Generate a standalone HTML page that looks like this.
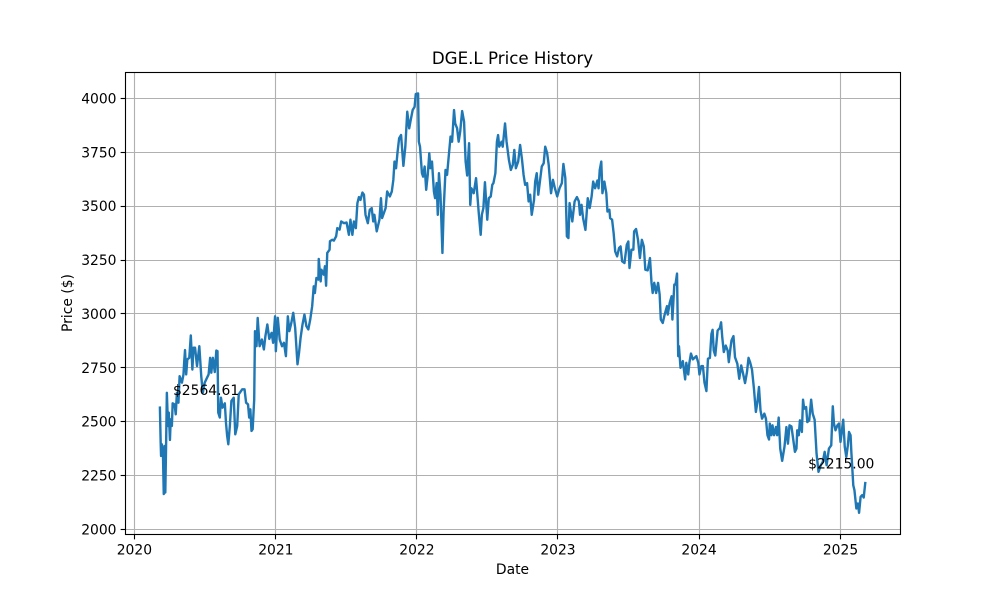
<!DOCTYPE html>
<html lang="en">
<head>
<meta charset="utf-8">
<title>DGE.L Price History</title>
<style>
html,body{margin:0;padding:0;background:#fff;width:1000px;height:600px;overflow:hidden}
svg{display:block}
text{font-family:"DejaVu Sans","Liberation Sans",sans-serif;fill:#000}
</style>
</head>
<body>
<svg id="chart" width="1000" height="600" viewBox="0 0 1000 600" xmlns="http://www.w3.org/2000/svg">
<rect x="0" y="0" width="1000" height="600" fill="#fff"/>
<text x="512.5" y="64" font-size="16.67" text-anchor="middle">DGE.L Price History</text>
<text x="512.5" y="574" font-size="13.89" text-anchor="middle">Date</text>
<text x="0" y="0" font-size="13.89" text-anchor="middle" transform="translate(72,303) rotate(-90)">Price ($)</text>
</svg>
<script>
// Days since 2020-01-01
const days = [
66,68,69,71,74,76,78,80,82,84,87,89,92,94,97,99,104,107,110,114,117,123,127,129,131,134,137,142,146,150,153,157,162,168,173,177,182,188,192,196,199,203,208,212,215,217,221,224,228,234,237,240,243,247,251,257,261,266,270,279,285,289,294,297,300,303,306,310,312,316,319,324,330,335,339,344,349,355,359,364,
366,371,376,382,387,392,397,401,406,411,416,422,426,430,435,440,445,450,455,460,464,467,471,476,477,482,484,490,493,496,499,505,506,512,516,522,525,531,535,542,549,555,559,564,568,573,577,581,585,590,594,598,604,609,614,618,621,627,630,634,638,641,650,654,661,666,670,673,677,681,685,690,696,701,706,711,715,720,725,728,734,
736,739,744,747,751,755,759,763,766,770,775,778,782,785,788,792,797,800,805,809,814,818,822,827,830,835,839,843,848,853,857,861,866,869,872,878,884,888,891,896,899,903,907,913,917,922,926,929,934,938,941,944,950,953,959,963,969,974,979,983,987,993,998,1003,1007,1011,1016,1020,1024,1028,1034,1037,1041,1045,1054,1059,1063,1068,1072,1078,1083,1088,1094,1100,1106,1110,
1115,1119,1123,1126,1133,1139,1145,1150,1153,1157,1161,1167,1173,1178,1183,1187,1192,1198,1201,1204,1208,1211,1216,1221,1224,1229,1231,1236,1240,1244,1249,1254,1258,1262,1268,1274,1278,1281,1286,1291,1293,1298,1303,1308,1313,1318,1322,1328,1334,1338,1341,1345,1350,1355,1359,1362,1367,1372,1378,1380,1385,1390,1392,1397,1400,1404,1407,1409,1413,1419,1425,1428,1433,1436,1440,1445,1454,1459,1462,1467,1471,1475,1480,
1484,1489,1493,1496,1499,1503,1509,1515,1518,1521,1525,1530,1535,1538,1542,1545,1550,1554,1560,1565,1570,1575,1580,1585,1589,1593,1598,1603,1608,1612,1616,1620,1624,1630,1634,1638,1642,1644,1648,1651,1655,1660,1663,1667,1671,1676,1682,1687,1691,1695,1700,1704,1709,1713,1715,1719,1722,1727,1730,1733,1738,1741,1746,1751,1755,1760,1765,1770,1776,1781,1786,1791,1797,1803,1807,1810,1814,1819,1823,1827,1834,1838,1842,1846,1849,1853,1855,1860,1863,1868,1872,1875,1879,1883,1887,1891
];
// Closing price at each of those days
const prices = [
2565,2403,2341,2395,2341,2164,2387,2171,2387,2634,2480,2542,2415,2511,2480,2585,2580,2534,2634,2588,2711,2681,2719,2781,2832,2719,2789,2796,2900,2742,2843,2843,2758,2850,2711,2634,2681,2704,2719,2796,2727,2796,2730,2830,2827,2542,2519,2611,2565,2585,2495,2434,2395,2480,2596,2611,2441,2480,2627,2650,2650,2588,2580,2519,2557,2457,2465,2603,2920,2850,2981,2850,2881,2835,2897,2951,2884,2912,2866,2989,
2827,2982,2881,2850,2866,2804,2989,2920,2958,3005,2935,2766,2820,2889,2951,2997,2943,2928,2974,3036,3128,3097,3167,3159,3255,3151,3205,3182,3221,3131,3283,3298,3337,3344,3340,3360,3398,3391,3429,3421,3424,3367,3437,3367,3429,3398,3514,3542,3529,3563,3553,3460,3421,3483,3491,3429,3460,3383,3406,3437,3537,3445,3491,3568,3545,3568,3622,3707,3676,3753,3815,3830,3687,3776,3938,3861,3900,3946,3961,4020,4023,
3799,3776,3653,3637,3684,3576,3645,3745,3676,3707,3568,3537,3607,3460,3653,3553,3283,3475,3668,3645,3745,3823,3799,3946,3884,3861,3799,3846,3941,3892,3707,3642,3792,3506,3583,3560,3630,3537,3468,3367,3460,3491,3611,3437,3537,3545,3599,3607,3653,3799,3830,3776,3799,3776,3884,3799,3715,3668,3691,3761,3676,3707,3784,3715,3645,3599,3607,3522,3553,3460,3529,3614,3653,3553,3684,3699,3776,3745,3691,3560,3622,3583,3545,3583,3607,3696,
3630,3360,3352,3514,3429,3522,3542,3522,3460,3506,3444,3390,3537,3491,3545,3614,3583,3619,3583,3668,3707,3560,3614,3560,3475,3483,3444,3437,3375,3290,3267,3306,3313,3244,3236,3321,3336,3213,3298,3298,3383,3394,3344,3259,3344,3313,3205,3202,3259,3144,3097,3144,3097,3144,3090,2974,2958,2997,3036,2997,3051,3082,2974,3136,3136,3187,2804,2850,2750,2781,2696,2773,2719,2773,2816,2789,2804,2773,2719,2758,2758,2681,2642,
2792,2796,2907,2926,2830,2807,2923,2935,2961,2892,2823,2853,2830,2776,2838,2877,2897,2799,2769,2699,2761,2722,2679,2730,2796,2776,2741,2653,2545,2591,2661,2552,2514,2537,2514,2437,2417,2491,2437,2483,2437,2475,2437,2519,2375,2318,2383,2475,2398,2483,2478,2426,2360,2375,2460,2437,2506,2452,2602,2560,2568,2498,2506,2602,2537,2509,2352,2267,2298,2313,2360,2298,2375,2390,2571,2491,2460,2483,2491,2406,2509,2383,2336,2390,2452,2437,2360,2205,2182,2097,2120,2077,2151,2159,2148,2215
];
const xTickDays = [0,366,731,1096,1461,1827];
const xTickLabels = ['2020','2021','2022','2023','2024','2025'];
const yTickValues = [2000,2250,2500,2750,3000,3250,3500,3750,4000];
const annotationLabels = ['$2564.61','$2215.00'];

const svgNS = 'http://www.w3.org/2000/svg';
const chart = document.getElementById('chart');
const plot = {left:125.5,right:900.5,top:72.5,bottom:534.5};
const xMin = -23, xMax = 1982.2, yMin = 1976.3, yMax = 4120.2;
function xScale(d){return plot.left+(d-xMin)*(plot.right-plot.left)/(xMax-xMin);}
function yScale(p){return plot.bottom-(p-yMin)*(plot.bottom-plot.top)/(yMax-yMin);}
function snap(v){return Math.floor(v)+0.5;}
function make(tag,attrs){
  const el=document.createElementNS(svgNS,tag);
  for(const k in attrs){el.setAttribute(k,attrs[k]);}
  return el;
}
// grid lines
xTickDays.forEach(function(d){
  const g=make('line',{x1:snap(xScale(d)),x2:snap(xScale(d)),y1:plot.top,y2:plot.bottom,stroke:'#b0b0b0','stroke-width':1.11});
  
  
  chart.appendChild(g);
});
yTickValues.forEach(function(v){
  const g=make('line',{x1:plot.left,x2:plot.right,y1:snap(yScale(v)),y2:snap(yScale(v)),stroke:'#b0b0b0','stroke-width':1.11});
  
  
  chart.appendChild(g);
});
// price line
const pts=days.map(function(d,i){return xScale(d).toFixed(2)+','+yScale(prices[i]).toFixed(2);}).join(' ');
const priceLine=make('polyline',{points:pts,fill:'none',stroke:'#1f77b4','stroke-width':2.4,'stroke-linejoin':'round','stroke-linecap':'square'});


chart.appendChild(priceLine);
// spines
const frame=make('rect',{x:plot.left,y:plot.top,width:plot.right-plot.left,height:plot.bottom-plot.top,fill:'none',stroke:'#000','stroke-width':1.11});


chart.appendChild(frame);
// x ticks
xTickDays.forEach(function(d,i){
  const t=make('line',{x1:snap(xScale(d)),x2:snap(xScale(d)),y1:plot.bottom,y2:plot.bottom+4.86,stroke:'#000','stroke-width':1.11});
  
  
  chart.appendChild(t);
  const l=make('text',{x:xScale(d),y:plot.bottom+20,'font-size':13.89,'text-anchor':'middle'});
  
  
  l.textContent=xTickLabels[i];
  chart.appendChild(l);
});
// y ticks
yTickValues.forEach(function(v){
  const t=make('line',{x1:plot.left-4.86,x2:plot.left,y1:snap(yScale(v)),y2:snap(yScale(v)),stroke:'#000','stroke-width':1.11});
  
  
  chart.appendChild(t);
  const l=make('text',{x:plot.left-9,y:yScale(v)+5,'font-size':13.89,'text-anchor':'end'});
  
  
  l.textContent=String(v);
  chart.appendChild(l);
});
// annotations, offset from the first and last data points
const firstIdx=0, lastIdx=days.length-1;
const startNote=make('text',{x:xScale(days[firstIdx])+46.2,y:yScale(prices[firstIdx])-12.8,'font-size':13.89,'text-anchor':'middle'});


startNote.textContent=annotationLabels[0];
chart.appendChild(startNote);
const endNote=make('text',{x:xScale(days[lastIdx])-24,y:yScale(prices[lastIdx])-14.7,'font-size':13.89,'text-anchor':'middle'});


endNote.textContent=annotationLabels[1];
chart.appendChild(endNote);
</script>
</body>
</html>
